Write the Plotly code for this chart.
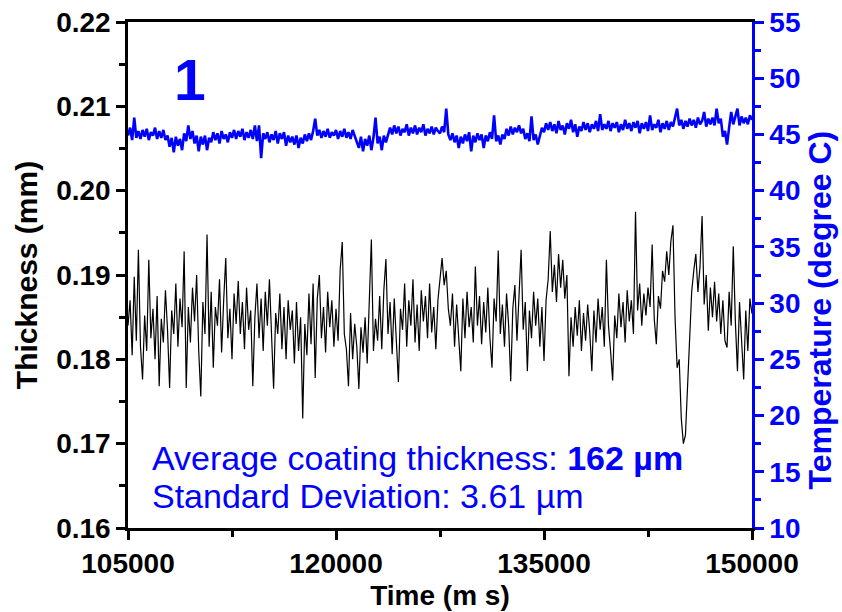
import plotly.graph_objects as go

# ---------------- data ----------------
t_start_ms = 105000
t_step_ms = 150

thickness_mm = [
    0.1840, 0.1870, 0.1805, 0.1898, 0.1822, 0.1930, 0.1815, 0.1776, 0.1852, 0.1810,
    0.1918, 0.1825, 0.1860, 0.1800, 0.1875, 0.1768, 0.1848, 0.1820, 0.1882, 0.1835,
    0.1766, 0.1858, 0.1830, 0.1890, 0.1815, 0.1872, 0.1838, 0.1928, 0.1766, 0.1862,
    0.1820, 0.1885, 0.1845, 0.1900, 0.1810, 0.1756, 0.1868, 0.1830, 0.1948, 0.1815,
    0.1880, 0.1790, 0.1862, 0.1840, 0.1895, 0.1808, 0.1870, 0.1920, 0.1825, 0.1860,
    0.1800, 0.1878, 0.1842, 0.1893, 0.1830, 0.1868, 0.1812, 0.1885, 0.1835, 0.1858,
    0.1768, 0.1850, 0.1890, 0.1825, 0.1872, 0.1810, 0.1880, 0.1840, 0.1895, 0.1820,
    0.1765, 0.1855, 0.1830, 0.1878, 0.1812, 0.1862, 0.1800, 0.1870, 0.1835, 0.1858,
    0.1795, 0.1868, 0.1810, 0.1850, 0.1730, 0.1842, 0.1805, 0.1878, 0.1818, 0.1890,
    0.1778, 0.1872, 0.1900, 0.1825, 0.1862, 0.1808, 0.1880, 0.1838, 0.1870, 0.1815,
    0.1860, 0.1822, 0.1906, 0.1939, 0.1830, 0.1812, 0.1768, 0.1855, 0.1800, 0.1842,
    0.1815, 0.1765, 0.1838, 0.1808, 0.1850, 0.1795, 0.1860, 0.1942, 0.1810, 0.1848,
    0.1822, 0.1875, 0.1812, 0.1882, 0.1919, 0.1830, 0.1868, 0.1806, 0.1872, 0.1825,
    0.1773, 0.1860, 0.1835, 0.1890, 0.1815, 0.1870, 0.1840, 0.1895, 0.1820, 0.1865,
    0.1810, 0.1882, 0.1845, 0.1875, 0.1825, 0.1890, 0.1832, 0.1862, 0.1812, 0.1870,
    0.1895, 0.1920, 0.1888, 0.1905, 0.1860, 0.1840, 0.1878, 0.1815, 0.1865, 0.1830,
    0.1786, 0.1872, 0.1825, 0.1880, 0.1838, 0.1862, 0.1820, 0.1910, 0.1840, 0.1875,
    0.1818, 0.1868, 0.1832, 0.1885, 0.1825, 0.1790, 0.1872, 0.1845, 0.1929, 0.1830,
    0.1865, 0.1815, 0.1878, 0.1840, 0.1774, 0.1860, 0.1888, 0.1822, 0.1875, 0.1930,
    0.1835, 0.1868, 0.1786, 0.1858, 0.1825, 0.1880, 0.1840, 0.1872, 0.1815, 0.1862,
    0.1798, 0.1870, 0.1895, 0.1952, 0.1880, 0.1912, 0.1868, 0.1925, 0.1885, 0.1918,
    0.1872, 0.1900, 0.1780, 0.1850, 0.1815, 0.1862, 0.1828, 0.1870, 0.1810, 0.1855,
    0.1822, 0.1865, 0.1832, 0.1786, 0.1858, 0.1820, 0.1872, 0.1835, 0.1862, 0.1815,
    0.1918, 0.1840, 0.1810, 0.1775, 0.1852, 0.1825, 0.1878, 0.1838, 0.1868, 0.1820,
    0.1882, 0.1845, 0.1870, 0.1830, 0.1975, 0.1858, 0.1890, 0.1840, 0.1878, 0.1852,
    0.1885, 0.1862, 0.1936, 0.1848, 0.1818, 0.1875, 0.1860, 0.1905, 0.1892, 0.1928,
    0.1900, 0.1940, 0.1959, 0.1850, 0.1790, 0.1800, 0.1730, 0.1700, 0.1710, 0.1770,
    0.1840, 0.1880, 0.1905, 0.1925, 0.1880, 0.1910, 0.1970, 0.1865, 0.1900, 0.1834,
    0.1885, 0.1850, 0.1892, 0.1845, 0.1878, 0.1830, 0.1870, 0.1822, 0.1814, 0.1880,
    0.1840, 0.1934, 0.1845, 0.1786, 0.1868, 0.1820, 0.1776, 0.1858, 0.1810, 0.1872,
    0.1854,
]

temperature_c = [
    44.9, 45.6, 44.5, 46.5, 44.7, 45.3, 44.6, 45.4, 44.8, 45.5,
    44.5, 45.2, 44.9, 45.6, 44.6, 45.3, 44.7, 45.4, 44.5, 44.9,
    43.9, 44.7, 43.4, 44.8, 44.0, 44.6, 43.6, 45.1, 44.4, 45.8,
    44.6, 45.3, 44.2, 44.9, 43.5, 44.8, 44.1, 44.9, 43.6, 44.7,
    44.3, 45.2, 44.5, 45.1, 44.2, 45.3, 44.6, 45.0, 44.3, 45.2,
    44.7, 45.4, 44.6, 45.3, 44.8, 45.5, 44.5, 45.2, 44.7, 45.4,
    44.6, 45.8, 44.4, 45.8, 42.9, 45.1, 44.6, 45.2, 44.3, 45.0,
    44.5, 45.3, 44.2, 45.1, 44.6, 45.2, 44.0, 44.9, 44.3, 44.8,
    44.1, 44.9, 43.8, 44.7, 44.2, 45.0, 44.4, 45.1, 44.5, 45.3,
    46.4, 44.9, 45.4, 44.7, 45.3, 44.8, 45.5, 44.7, 45.2, 44.9,
    45.4, 44.6, 45.3, 44.8, 45.5, 44.7, 45.2, 44.6, 45.4, 44.8,
    44.4, 43.8, 44.8, 43.5, 44.6, 44.0, 44.9, 43.6, 44.7, 46.5,
    44.2, 44.8, 43.6, 44.9, 44.3, 45.0, 45.6, 45.0, 45.8, 45.1,
    45.7, 44.9, 45.5, 45.2, 45.9, 44.9, 45.6, 45.1, 45.8, 45.0,
    45.6, 45.2, 45.9, 44.9, 45.5, 45.1, 45.7, 45.0, 45.6, 45.3,
    45.1, 45.7, 45.2, 47.3, 45.0, 44.5, 45.1, 44.3, 44.9, 43.8,
    44.8, 44.2, 45.0, 44.4, 45.2, 43.5, 44.9, 44.3, 45.1, 44.5,
    45.0, 43.8, 44.9, 44.4, 45.2, 44.6, 46.7, 44.4, 44.9, 44.1,
    45.0, 44.6, 45.5, 44.9, 45.7, 45.0, 45.6, 45.2, 45.8, 45.1,
    45.5, 44.6, 45.1, 44.4, 46.6, 44.5, 45.0, 44.1, 44.9, 45.6,
    45.2, 46.0, 45.4, 46.1, 45.3, 45.9, 45.1, 46.2, 45.4, 45.8,
    45.0, 46.0, 45.5, 46.3, 45.2, 45.9, 44.8, 45.7, 45.3, 46.1,
    45.4, 46.0, 45.2, 45.9, 45.5, 46.2, 45.3, 46.8, 45.4, 45.9,
    45.5, 46.2, 45.3, 46.0, 45.6, 46.1, 45.2, 45.9, 45.4, 46.3,
    45.5, 46.0, 45.3, 46.1, 45.6, 46.2, 45.1, 46.0, 45.5, 46.1,
    45.3, 46.7, 45.4, 45.9, 45.6, 46.3, 45.2, 46.0, 45.5, 46.2,
    45.4, 46.1, 45.7, 46.4, 47.3, 45.8, 46.3, 45.5, 46.2, 45.7,
    46.4, 45.8, 46.3, 45.6, 46.5, 45.9, 46.2, 47.0, 45.7, 46.4,
    45.9, 46.5, 45.8, 47.3, 46.0, 46.4, 44.8, 45.3, 44.1, 45.6,
    47.0, 45.9, 46.5, 47.3, 45.8, 46.6, 46.0, 46.5, 45.9, 46.7,
    46.3,
]

x_tick_vals = [105000, 120000, 135000, 150000]
y_tick_vals = [0.16, 0.17, 0.18, 0.19, 0.20, 0.21, 0.22]
y_tick_text = ["0.16", "0.17", "0.18", "0.19", "0.20", "0.21", "0.22"]
y2_tick_vals = [10, 15, 20, 25, 30, 35, 40, 45, 50, 55]

time_ms = [t_start_ms + t_step_ms * i for i in range(len(thickness_mm))]
time_ms_temp = [t_start_ms + t_step_ms * i for i in range(len(temperature_c))]

BLUE = "#0000FF"
FONT = "Liberation Sans, Arial, sans-serif"

fig = go.Figure()
fig.add_trace(go.Scatter(x=time_ms, y=thickness_mm, mode="lines",
                         line=dict(color="black", width=1.2), yaxis="y",
                         showlegend=False))
fig.add_trace(go.Scatter(x=time_ms_temp, y=temperature_c, mode="lines",
                         line=dict(color=BLUE, width=2.6), yaxis="y2",
                         showlegend=False))

tickfont_black = dict(family=FONT, size=28, color="black", weight="bold")
tickfont_blue = dict(family=FONT, size=28, color=BLUE, weight="bold")

fig.update_layout(
    width=842, height=612,
    margin=dict(l=128, r=90, t=22, b=84),
    plot_bgcolor="white", paper_bgcolor="white",
    xaxis=dict(
        range=[105000, 150000], tickvals=x_tick_vals,
        ticktext=[str(v) for v in x_tick_vals], automargin=False,
        ticks="outside", ticklen=9, tickwidth=2.5, tickcolor="black",
        minor=dict(dtick=7500, tick0=105000, ticks="outside", ticklen=6,
                   tickwidth=2.5, tickcolor="black", showgrid=False),
        showline=True, linecolor="black", linewidth=2.5, mirror=True,
        showgrid=False, zeroline=False, tickfont=tickfont_black,
        title=dict(text="<b>Time (m s)</b>", font=dict(family=FONT, size=28, color="black"),
                   standoff=8),
    ),
    yaxis=dict(
        range=[0.16, 0.22], tickvals=y_tick_vals, ticktext=y_tick_text,
        automargin=False,
        ticks="outside", ticklen=9, tickwidth=2.5, tickcolor="black",
        minor=dict(dtick=0.005, tick0=0.16, ticks="outside", ticklen=6,
                   tickwidth=2.5, tickcolor="black", showgrid=False),
        showline=True, linecolor="black", linewidth=2.5,
        showgrid=False, zeroline=False, tickfont=tickfont_black,
        title=dict(text="<b>Thickness (mm)</b>", font=dict(family=FONT, size=30, color="black"),
                   standoff=10),
    ),
    yaxis2=dict(
        range=[10, 55], tickvals=y2_tick_vals, overlaying="y", side="right",
        automargin=False,
        ticks="outside", ticklen=9, tickwidth=2.5, tickcolor=BLUE,
        minor=dict(dtick=2.5, tick0=10, ticks="outside", ticklen=6,
                   tickwidth=2.5, tickcolor=BLUE, showgrid=False),
        showline=True, linecolor=BLUE, linewidth=2.5,
        showgrid=False, zeroline=False, tickfont=tickfont_blue,
    ),
    annotations=[
        dict(text="<b>Temperature (degree C)</b>", xref="paper", yref="paper",
             x=1.109, y=0.43, xanchor="center", yanchor="middle", textangle=-90,
             showarrow=False, font=dict(family=FONT, size=32, color=BLUE)),
        dict(text="<b>1</b>", xref="paper", yref="paper", x=0.1, y=0.885,
             xanchor="center", yanchor="middle", showarrow=False,
             font=dict(family=FONT, size=57, color=BLUE)),
        dict(text="Average coating thickness: <b>162 µm</b>", xref="paper", yref="paper",
             x=0.035, y=0.138, xanchor="left", yanchor="middle", showarrow=False,
             font=dict(family=FONT, size=34, color=BLUE)),
        dict(text="Standard Deviation: 3.61 µm", xref="paper", yref="paper",
             x=0.035, y=0.063, xanchor="left", yanchor="middle", showarrow=False,
             font=dict(family=FONT, size=34, color=BLUE)),
    ],
)

fig.write_html("out.html")
